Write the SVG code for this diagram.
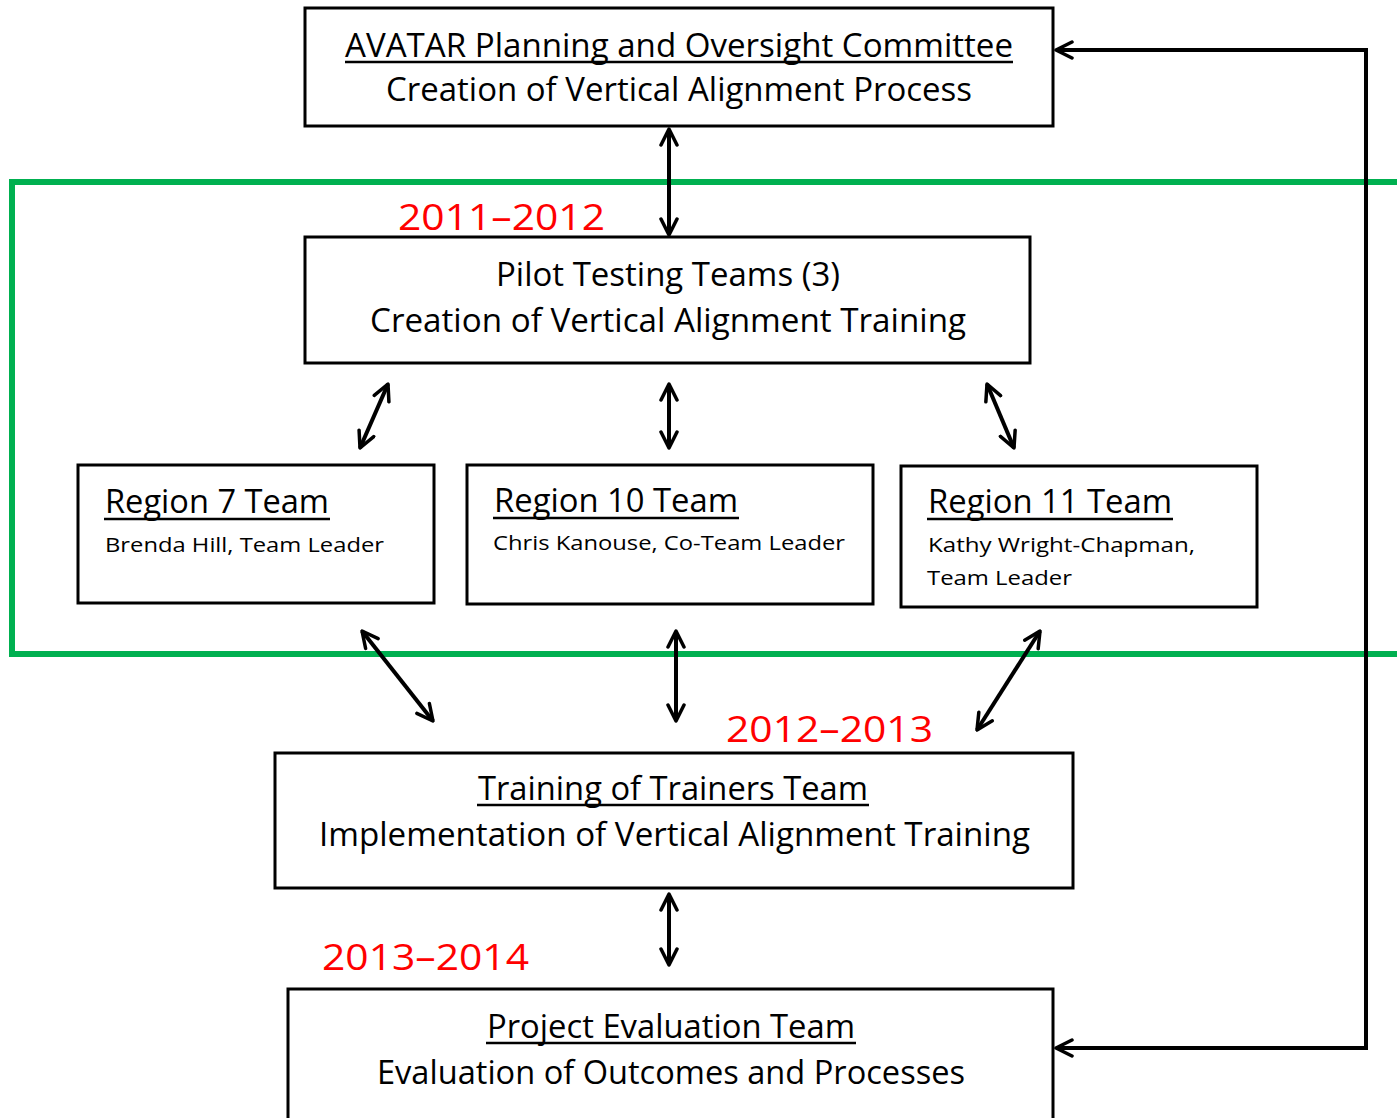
<svg xmlns="http://www.w3.org/2000/svg" width="1397" height="1118" viewBox="0 0 1397 1118">
<style>
.box{fill:#fff;stroke:#000;stroke-width:3}
.t{font-family:"Open Sans","Liberation Sans",sans-serif;fill:#000}
.big{font-size:32px}
.reg{font-size:33px}
.sm{font-size:20px}
.yr{font-family:"Open Sans","Liberation Sans",sans-serif;font-size:36px;fill:#ff0000}
.ul{stroke:#000;stroke-width:2.5}
.con{stroke:#000;stroke-width:4;fill:none}
</style>
<defs>
<marker id="ah" viewBox="0 0 20 20" refX="18" refY="10" markerWidth="20" markerHeight="20" markerUnits="userSpaceOnUse" orient="auto-start-reverse">
<path d="M2,2 L18,10 L2,18" fill="none" stroke="#000" stroke-width="3.5" stroke-linecap="round" stroke-linejoin="round"/>
</marker>
</defs>
<rect x="12" y="182" width="1400" height="472" fill="none" stroke="#00b050" stroke-width="6"/>
<g id="n-avatar">
<rect class="box" x="305" y="8" width="748" height="118"/>
<text class="t big" x="345" y="57" textLength="668" lengthAdjust="spacingAndGlyphs">AVATAR Planning and Oversight Committee</text>
<line class="ul" x1="345" y1="62" x2="1013" y2="62"/>
<text class="t big" x="386" y="101" textLength="586" lengthAdjust="spacingAndGlyphs">Creation of Vertical Alignment Process</text>
</g>
<g id="n-pilot">
<rect class="box" x="305" y="237" width="725" height="126"/>
<text class="t big" x="496" y="286" textLength="344" lengthAdjust="spacingAndGlyphs">Pilot Testing Teams (3)</text>
<text class="t big" x="370" y="332" textLength="596" lengthAdjust="spacingAndGlyphs">Creation of Vertical Alignment Training</text>
</g>
<g id="n-r7">
<rect class="box" x="78" y="465" width="356" height="138"/>
<text class="t reg" x="105" y="513" textLength="224" lengthAdjust="spacingAndGlyphs">Region 7 Team</text>
<line class="ul" x1="104" y1="519" x2="330" y2="519"/>
<text class="t sm" x="105" y="552" textLength="279" lengthAdjust="spacingAndGlyphs">Brenda Hill, Team Leader</text>
</g>
<g id="n-r10">
<rect class="box" x="467" y="465" width="406" height="139"/>
<text class="t reg" x="494" y="512" textLength="244" lengthAdjust="spacingAndGlyphs">Region 10 Team</text>
<line class="ul" x1="493" y1="518" x2="739" y2="518"/>
<text class="t sm" x="493" y="550" textLength="352" lengthAdjust="spacingAndGlyphs">Chris Kanouse, Co-Team Leader</text>
</g>
<g id="n-r11">
<rect class="box" x="901" y="466" width="356" height="141"/>
<text class="t reg" x="928" y="513" textLength="244" lengthAdjust="spacingAndGlyphs">Region 11 Team</text>
<line class="ul" x1="927" y1="519" x2="1173" y2="519"/>
<text class="t sm" x="928" y="552" textLength="267" lengthAdjust="spacingAndGlyphs">Kathy Wright-Chapman,</text>
<text class="t sm" x="927" y="585" textLength="145" lengthAdjust="spacingAndGlyphs">Team Leader</text>
</g>
<g id="n-tot">
<rect class="box" x="275" y="753" width="798" height="135"/>
<text class="t big" x="478" y="800" textLength="390" lengthAdjust="spacingAndGlyphs">Training of Trainers Team</text>
<line class="ul" x1="477" y1="805" x2="869" y2="805"/>
<text class="t big" x="319" y="846" textLength="711" lengthAdjust="spacingAndGlyphs">Implementation of Vertical Alignment Training</text>
</g>
<g id="n-eval">
<rect class="box" x="288" y="989" width="765" height="140"/>
<text class="t big" x="487" y="1038" textLength="368" lengthAdjust="spacingAndGlyphs">Project Evaluation Team</text>
<line class="ul" x1="486" y1="1043" x2="856" y2="1043"/>
<text class="t big" x="377" y="1084" textLength="588" lengthAdjust="spacingAndGlyphs">Evaluation of Outcomes and Processes</text>
</g>
<g id="labels">
<text class="yr" x="398" y="230" textLength="207" lengthAdjust="spacingAndGlyphs">2011–2012</text>
<text class="yr" x="726" y="742" textLength="207" lengthAdjust="spacingAndGlyphs">2012–2013</text>
<text class="yr" x="322" y="970" textLength="207" lengthAdjust="spacingAndGlyphs">2013–2014</text>
</g>
<g id="connectors">
<line class="con" x1="669" y1="129" x2="669" y2="235" marker-start="url(#ah)" marker-end="url(#ah)"/>
<line class="con" x1="388" y1="384" x2="360" y2="448" marker-start="url(#ah)" marker-end="url(#ah)"/>
<line class="con" x1="669" y1="384" x2="669" y2="448" marker-start="url(#ah)" marker-end="url(#ah)"/>
<line class="con" x1="987" y1="384" x2="1014" y2="448" marker-start="url(#ah)" marker-end="url(#ah)"/>
<line class="con" x1="362" y1="631" x2="433" y2="721" marker-start="url(#ah)" marker-end="url(#ah)"/>
<line class="con" x1="676" y1="631" x2="676" y2="721" marker-start="url(#ah)" marker-end="url(#ah)"/>
<line class="con" x1="1040" y1="631" x2="977" y2="730" marker-start="url(#ah)" marker-end="url(#ah)"/>
<line class="con" x1="669" y1="894" x2="669" y2="965" marker-start="url(#ah)" marker-end="url(#ah)"/>
<polyline class="con" points="1056,50 1366,50 1366,1048 1056,1048" marker-start="url(#ah)" marker-end="url(#ah)"/>
</g>
</svg>
